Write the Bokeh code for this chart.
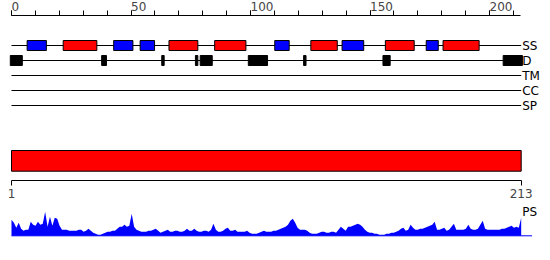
from bokeh.plotting import figure
from bokeh.models import Range1d, LinearAxis, FixedTicker, ColumnDataSource
from bokeh.embed import file_html
from bokeh.resources import INLINE
from bokeh.core.properties import value

# ---------------- data ----------------
LENGTH = 213
TOP_TICKS = [0, 50, 100, 150, 200]
TOP_MINOR_TICKS = list(range(0, 211, 10))
BOTTOM_TICKS = [1, 213]
TRACKS = ["SS", "D", "TM", "CC", "SP"]

SS_START = [8, 23, 44, 55, 67, 86, 111, 126, 139, 157, 174, 181]
SS_END = [15, 36, 51, 60, 78, 98, 116, 136, 147, 168, 178, 195]
SS_TYPE = ["E", "H", "E", "E", "H", "H", "E", "H", "E", "H", "E", "H"]

D_START = [1, 39, 64, 78, 80, 100, 123, 156, 206]
D_END = [5, 40, 64, 78, 84, 107, 123, 158, 213]

PS = [16, 13, 8, 13, 7, 5, 6, 6, 14, 11,
      10, 14, 11, 12, 24, 9, 19, 10, 18, 17,
      10, 6, 6, 6, 5, 5, 5, 5, 6, 6,
      4, 5, 7, 5, 3, 2, 1, 1, 2, 3,
      4, 4, 5, 5, 7, 9, 9, 11, 9, 10,
      22, 9, 6, 5, 4, 4, 4, 5, 5, 6,
      7, 5, 3, 4, 5, 6, 4, 4, 5, 5,
      4, 4, 5, 7, 5, 5, 7, 5, 4, 4,
      5, 5, 4, 6, 12, 6, 4, 4, 5, 7,
      8, 5, 5, 6, 4, 4, 4, 4, 5, 3,
      2, 2, 2, 3, 4, 5, 4, 4, 4, 5,
      5, 6, 7, 8, 9, 11, 15, 17, 13, 8,
      6, 6, 6, 5, 3, 2, 2, 2, 3, 4,
      4, 3, 3, 4, 4, 3, 6, 9, 7, 5,
      9, 9, 10, 11, 12, 11, 9, 6, 4, 3,
      3, 2, 2, 1, 1, 1, 2, 2, 3, 3,
      4, 5, 7, 8, 5, 6, 11, 8, 6, 6,
      7, 7, 8, 9, 10, 11, 14, 6, 6, 7,
      8, 5, 6, 9, 12, 6, 6, 6, 6, 7,
      11, 7, 6, 6, 7, 11, 15, 7, 6, 6,
      6, 6, 6, 6, 7, 7, 8, 9, 10, 8,
      9, 8, 18]

# ---------------- layout ----------------
W, H = 550, 260
FONT_NAME = "DejaVu Sans"
FONT = value(FONT_NAME)
FS = "12px"
PX_FIRST, PX_LAST = 11.0, 520.7
scale = (PX_LAST - PX_FIRST) / (LENGTH - 1)
x_range = Range1d(1 - PX_FIRST / scale, LENGTH + (W - PX_LAST) / scale)

TOP_PX0, TOP_PX210 = 11.0, 513.0
tscale = (TOP_PX210 - TOP_PX0) / 210
top_range = Range1d(-TOP_PX0 / tscale, 210 + (W - TOP_PX210) / tscale)

PS_BASE_PX = 235.3
ps_range = Range1d(PS_BASE_PX - H, PS_BASE_PX)

BLUE = "#0000ff"
RED = "#ff0000"

p = figure(width=W, height=H, x_range=x_range, y_range=Range1d(H, 0),
           output_backend="svg", toolbar_location=None,
           x_axis_location=None, y_axis_location=None,
           min_border=0, outline_line_color=None,
           background_fill_color="white", border_fill_color="white")
p.grid.grid_line_color = None
p.extra_x_ranges = {"top": top_range}
p.extra_y_ranges = {"ps": ps_range}

# top ruler
top_axis = LinearAxis(x_range_name="top", fixed_location=15,
                      ticker=FixedTicker(ticks=TOP_TICKS, minor_ticks=TOP_MINOR_TICKS),
                      bounds=(0, LENGTH),
                      major_tick_out=5, major_tick_in=0,
                      minor_tick_out=5, minor_tick_in=0,
                      major_label_standoff=4,
                      major_label_orientation=0.0,
                      major_label_text_font=FONT_NAME, major_label_text_font_size=FS,
                      axis_line_color="black", major_tick_line_color="black",
                      minor_tick_line_color="black")
p.add_layout(top_axis, "above")

# tracks
track_y = [45 + 15 * i for i in range(len(TRACKS))]
p.segment(x0=[1] * len(TRACKS), x1=[LENGTH] * len(TRACKS), y0=track_y, y1=track_y,
          line_color="black", line_width=1)
p.text(x=[LENGTH] * len(TRACKS), y=track_y, text=TRACKS, x_offset=1,
       text_baseline="middle", text_align="left", text_font=FONT,
       text_font_size=FS, text_color="black")

ss_y = track_y[0]
ss_src = ColumnDataSource(dict(
    left=[s - 0.5 for s in SS_START], right=[e + 0.5 for e in SS_END],
    top=[ss_y - 5] * len(SS_START), bottom=[ss_y + 5] * len(SS_START),
    color=[RED if t == "H" else BLUE for t in SS_TYPE]))
p.quad(left="left", right="right", top="top", bottom="bottom", source=ss_src,
       fill_color="color", line_color="black", line_width=1)

d_y = track_y[1]
p.quad(left=[s - 0.5 for s in D_START], right=[e + 0.5 for e in D_END],
       top=[d_y - 5] * len(D_START), bottom=[d_y + 5] * len(D_START),
       fill_color="black", line_color="black", line_width=1)

# domain bar + residue axis
p.quad(left=[1], right=[LENGTH], top=[150], bottom=[170.7],
       fill_color=RED, line_color="black", line_width=1)
bottom_axis = LinearAxis(fixed_location=180.3,
                         ticker=FixedTicker(ticks=BOTTOM_TICKS, minor_ticks=[]),
                         bounds=(1, LENGTH),
                         major_tick_out=5, major_tick_in=0,
                         minor_tick_out=0, minor_tick_in=0,
                         major_label_standoff=3,
                         major_label_text_font=FONT_NAME, major_label_text_font_size=FS,
                         axis_line_color="black", major_tick_line_color="black")
p.add_layout(bottom_axis, "below")

# PS profile
res = list(range(1, len(PS) + 1))
p.varea(x=res, y1=[0] * len(PS), y2=PS, fill_color=BLUE, y_range_name="ps")
p.line(x=[1, LENGTH + 4.5], y=[0, 0], line_color=BLUE, line_width=1, y_range_name="ps")
p.text(x=[LENGTH], y=[24.3], text=["PS"], x_offset=1, text_baseline="middle",
       text_align="left", text_font=FONT, text_font_size=FS, text_color="black",
       y_range_name="ps")

open("out.html", "w").write(file_html(p, INLINE))
